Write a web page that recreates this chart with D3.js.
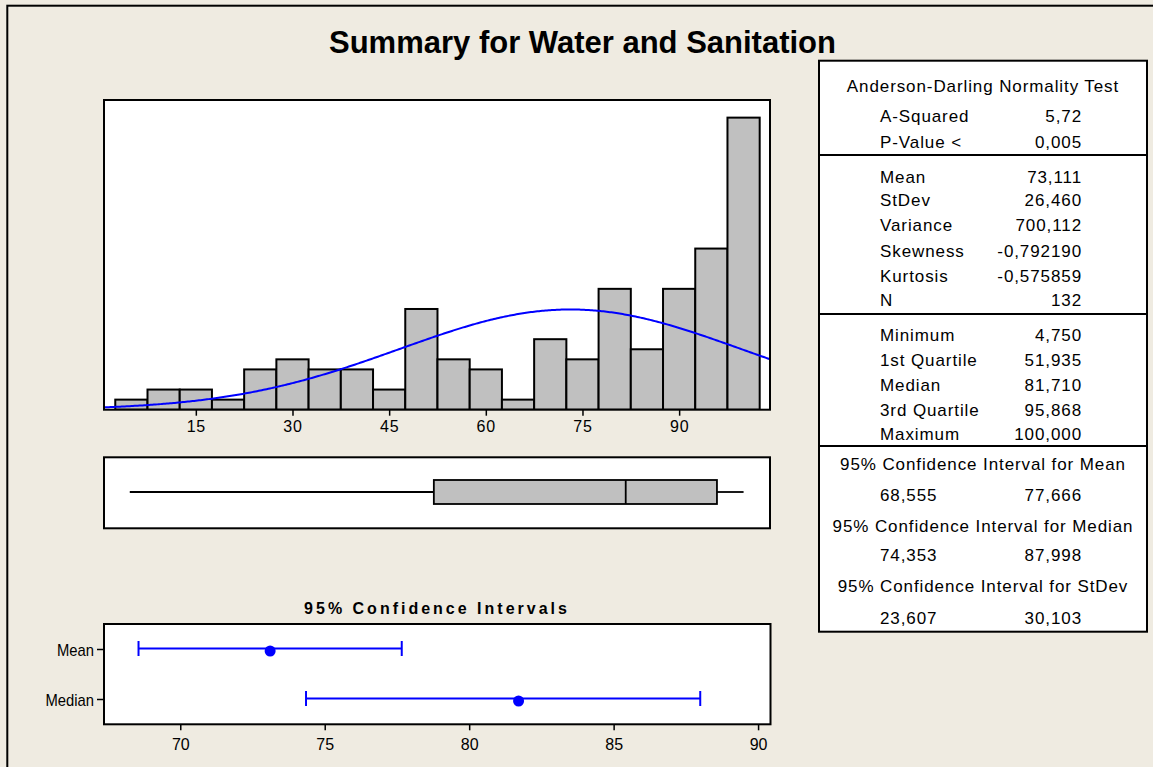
<!DOCTYPE html>
<html><head><meta charset="utf-8">
<script src="https://cdn.jsdelivr.net/npm/d3@7"></script>
<style>
html,body{margin:0;padding:0;background:#efebe1;}
svg{display:block;}
text{font-family:Arial,"Liberation Sans",sans-serif;fill:#000;}
</style></head><body>
<svg id="c" width="1153" height="767"></svg>
<script>
// ---------- data ----------
const chartTitle = "Summary for Water and Sanitation";
const binCenters = [5,10,15,20,25,30,35,40,45,50,55,60,65,70,75,80,85,90,95,100];
const binCounts  = [1,2,2,1,4,5,4,4,2,10,5,4,1,7,5,12,6,12,16,29];
const binWidth = 5;
const histTicks = [15,30,45,60,75,90];

const adLabels = ["A-Squared","P-Value <"];
const adValues = ["5,72","0,005"];
const momentLabels = ["Mean","StDev","Variance","Skewness","Kurtosis","N"];
const momentValues = [73.111, 26.460, 700.112, -0.792190, -0.575859, 132];
const momentText = ["73,111","26,460","700,112","-0,792190","-0,575859","132"];
const quantileLabels = ["Minimum","1st Quartile","Median","3rd Quartile","Maximum"];
const quantileValues = [4.750, 51.935, 81.710, 95.868, 100.000];
const ciHeaders = ["95% Confidence Interval for Mean","95% Confidence Interval for Median","95% Confidence Interval for StDev"];
const ciLower = [68.555, 74.353, 23.607];
const ciUpper = [77.666, 87.998, 30.103];

const ciCategories = ["Mean","Median"];
const ciCenters = [73.111, 81.710];
const ciTicks = [70,75,80,85,90];
const ciTitle = "95% Confidence Intervals";

const fmt3 = v => d3.format(".3f")(v).replace(".", ",");
const mean = momentValues[0], sd = momentValues[1], nObs = momentValues[5];

// ---------- drawing ----------
const svg = d3.select("#c");
const FONT = 'Arial,"Liberation Sans",sans-serif';

// outer frame
svg.append("rect").attr("x",7.3).attr("y",5.7).attr("width",1300).attr("height",900)
  .attr("fill","#efebe1").attr("stroke","#000").attr("stroke-width",2);

// title
svg.append("text").attr("x",582.5).attr("y",52.5).attr("text-anchor","middle")
  .attr("font-size",31).attr("font-weight","bold").text(chartTitle);

// ---- histogram ----
const hx = d3.scaleLinear().domain([0.75,104.1]).range([104,770]);
const hy = d3.scaleLinear().domain([0,30.75]).range([409.7,100]);

svg.append("defs").append("clipPath").attr("id","hclip")
  .append("rect").attr("x",104).attr("y",100).attr("width",666).attr("height",309.7);

svg.append("rect").attr("x",104).attr("y",100).attr("width",666).attr("height",309.7).attr("fill","#fff");

const hg = svg.append("g").attr("clip-path","url(#hclip)");
hg.selectAll("rect.bar").data(binCenters).join("rect").attr("class","bar")
  .attr("x",d=>hx(d-binWidth/2))
  .attr("width",d=>hx(d+binWidth/2)-hx(d-binWidth/2))
  .attr("y",(d,i)=>hy(binCounts[i]))
  .attr("height",(d,i)=>hy(0)-hy(binCounts[i]))
  .attr("fill","#c0c0c0").attr("stroke","#000").attr("stroke-width",2);

// fitted normal curve from the reported mean and StDev
const xs = d3.range(hx.domain()[0], hx.domain()[1]+0.001, 0.25);
const normDens = x => nObs*binWidth*Math.exp(-0.5*((x-mean)/sd)**2)/(sd*Math.sqrt(2*Math.PI));
hg.append("path").datum(xs)
  .attr("d", d3.line().x(d=>hx(d)).y(d=>hy(normDens(d))))
  .attr("fill","none").attr("stroke","#0000ff").attr("stroke-width",2);

svg.append("rect").attr("x",104).attr("y",100).attr("width",666).attr("height",309.7)
  .attr("fill","none").attr("stroke","#000").attr("stroke-width",2);

const gx = svg.append("g").attr("transform","translate(0,409.7)")
  .call(d3.axisBottom(hx).tickValues(histTicks).tickSize(6).tickSizeOuter(0));
gx.attr("font-family",FONT).attr("font-size",16);
gx.select(".domain").remove();
gx.selectAll(".tick line").attr("stroke","#000").attr("stroke-width",1.5);
gx.selectAll(".tick text").attr("y",22.5).attr("dy",null)
  .attr("font-size",16).style("font-size","16px").attr("letter-spacing",0.8).attr("fill","#000");

// ---- boxplot ----
svg.append("rect").attr("x",104).attr("y",457.3).attr("width",666).attr("height",71)
  .attr("fill","#fff").attr("stroke","#000").attr("stroke-width",2);
const bq = quantileValues;
const bg = svg.append("g").attr("stroke","#000").attr("stroke-width",1.8);
bg.append("line").attr("x1",hx(bq[0])).attr("x2",hx(bq[1])).attr("y1",492).attr("y2",492);
bg.append("line").attr("x1",hx(bq[3])).attr("x2",hx(bq[4])).attr("y1",492).attr("y2",492);
bg.append("rect").attr("x",hx(bq[1])).attr("y",480).attr("width",hx(bq[3])-hx(bq[1])).attr("height",24)
  .attr("fill","#c0c0c0");
bg.append("line").attr("x1",hx(bq[2])).attr("x2",hx(bq[2])).attr("y1",480).attr("y2",504);

// ---- CI plot ----
svg.append("text").attr("x",437).attr("y",614).attr("text-anchor","middle")
  .attr("font-size",16).attr("font-weight","bold").attr("letter-spacing",3).text(ciTitle);

const cx = d3.scaleLinear().domain([67.36,90.43]).range([104,770.5]);
const cy = d3.scalePoint().domain(ciCategories).range([624,724]).padding(0.5);

svg.append("rect").attr("x",104).attr("y",624).attr("width",666.5).attr("height",100.3)
  .attr("fill","#fff").attr("stroke","#000").attr("stroke-width",2);

const cg = svg.append("g");
ciCategories.forEach((c,i)=>{
  const y = cy(c)-0.5;
  const g = cg.append("g").attr("stroke","#0000ff").attr("stroke-width",2);
  g.append("line").attr("x1",cx(ciLower[i])).attr("x2",cx(ciUpper[i])).attr("y1",y).attr("y2",y);
  g.append("line").attr("x1",cx(ciLower[i])).attr("x2",cx(ciLower[i])).attr("y1",y-7.5).attr("y2",y+7.5);
  g.append("line").attr("x1",cx(ciUpper[i])).attr("x2",cx(ciUpper[i])).attr("y1",y-7.5).attr("y2",y+7.5);
  cg.append("circle").attr("cx",cx(ciCenters[i])).attr("cy",cy(c)+2).attr("r",5.5).attr("fill","#0000ff");
});

const cax = svg.append("g").attr("transform","translate(0,724.3)")
  .call(d3.axisBottom(cx).tickValues(ciTicks).tickSize(6).tickSizeOuter(0));
cax.attr("font-family",FONT).attr("font-size",16);
cax.select(".domain").remove();
cax.selectAll(".tick line").attr("stroke","#000").attr("stroke-width",1.5);
cax.selectAll(".tick text").attr("y",25.3).attr("dy",null)
  .attr("font-size",16).attr("fill","#000");

const ySx = 0.87;
const cay = svg.append("g").attr("transform","translate(104,0)")
  .call(d3.axisLeft(cy).tickSize(7).tickSizeOuter(0));
cay.attr("font-family",FONT).attr("font-size",17);
cay.select(".domain").remove();
cay.selectAll(".tick line").attr("stroke","#000").attr("stroke-width",1.5);
cay.selectAll(".tick text").attr("x",-10/ySx).attr("dy","0.4em").attr("transform",`scale(${ySx},1)`)
  .attr("font-size",17).attr("fill","#000");

// ---- statistics table ----
const tx0 = 819, tx1 = 1147, tcx = (tx0+tx1)/2;
svg.append("rect").attr("x",tx0).attr("y",60.7).attr("width",tx1-tx0).attr("height",571)
  .attr("fill","#fff").attr("stroke","#000").attr("stroke-width",2);
[155,314,446].forEach(y=>svg.append("line").attr("x1",tx0).attr("x2",tx1).attr("y1",y).attr("y2",y)
  .attr("stroke","#000").attr("stroke-width",2));

const tg = svg.append("g").attr("font-size",17).attr("letter-spacing",0.9);
const labX = 880, valX = 1082;
function tline(x,y,s,anchor){ tg.append("text").attr("x",x).attr("y",y).attr("text-anchor",anchor).text(s); }

tline(tcx,92,"Anderson-Darling Normality Test","middle");
const adY = [122,148];
adLabels.forEach((l,i)=>{ tline(labX,adY[i],l,"start"); tline(valX,adY[i],adValues[i],"end"); });
const moY = [183,206,231,257,282,306];
momentLabels.forEach((l,i)=>{ tline(labX,moY[i],l,"start"); tline(valX,moY[i],momentText[i],"end"); });
const quY = [341,366,391,416,440];
quantileLabels.forEach((l,i)=>{ tline(labX,quY[i],l,"start"); tline(valX,quY[i],fmt3(quantileValues[i]),"end"); });
const ciHY = [470,532,592], ciVY = [501,561,624];
ciHeaders.forEach((h,i)=>{
  tline(tcx,ciHY[i],h,"middle");
  tline(labX,ciVY[i],fmt3(ciLower[i]),"start");
  tline(valX,ciVY[i],fmt3(ciUpper[i]),"end");
});
</script>
</body></html>
